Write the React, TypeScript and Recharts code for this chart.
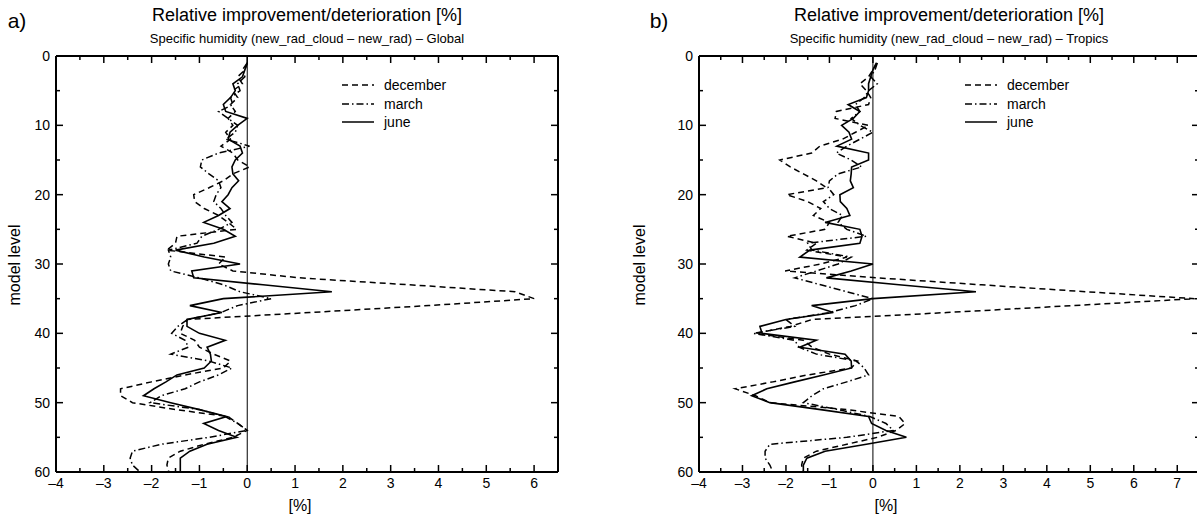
import React from "react";
import { LineChart, Line, XAxis, YAxis, ReferenceLine } from "recharts";

// model levels 1..60
const levels = Array.from({ length: 60 }, (_, i) => i + 1);

// Global
const globalDec = [
  0.0, -0.05, -0.2, -0.1, -0.3, -0.2, -0.35, -0.25, -0.4, -0.3,
  -0.45, -0.35, -0.55, -0.3, -0.2, 0.05, -0.3, -0.5, -0.8, -1.12,
  -1.1, -0.9, -0.6, -0.4, -0.22, -1.47, -1.5, -1.68, -0.45, -0.6,
  -0.3, 1.1, 3.4, 5.6, 6.0, 3.8, 1.3, -1.25, -1.35, -1.4,
  -1.1, -1.0, -0.7, -0.35, -0.5, -1.3, -2.0, -2.65, -2.65, -2.4,
  -1.5, -0.4, -0.2, 0.0, -0.3, -0.9, -1.4, -1.65, -1.68, -1.64,
];
const globalMar = [
  0.0, -0.1, -0.05, -0.2, -0.15, -0.35, -0.3, -0.6, -0.4, -0.2,
  -0.25, -0.45, 0.05, -0.6, -0.95, -0.98, -0.8, -0.6, -0.55, -0.65,
  -0.7, -0.55, -0.45, -0.32, -0.6, -0.95, -1.05, -1.65, -1.6, -1.65,
  -1.6, -1.0, -0.5, -0.15, 0.5, -0.2, -0.55, -1.25, -1.45, -1.58,
  -1.3, -1.23, -1.6, -0.8, -0.32, -0.6, -1.0, -1.3, -1.8, -2.03,
  -1.0, -0.46, -0.2, 0.0, -0.8, -1.8, -2.4, -2.45, -2.4, -2.24,
];
const globalJun = [
  0.0, -0.05, -0.1, -0.3, -0.25, -0.35, -0.5, -0.45, 0.0, -0.2,
  -0.36, -0.4, -0.15, -0.1, -0.25, -0.32, -0.3, -0.18, -0.32, -0.4,
  -0.53, -0.36, -0.6, -0.91, -0.5, -0.25, -0.7, -1.5, -0.9, -0.15,
  -1.16, -1.12, 0.33, 1.77, -0.5, -1.2, -0.53, -1.26, -1.26, -1.0,
  -0.46, -0.84, -0.77, -0.75, -0.9, -1.47, -1.7, -1.95, -2.17, -1.6,
  -1.0, -0.43, -0.91, -0.6, -0.22, -0.84, -1.2, -1.4, -1.4, -1.4,
];

// Tropics
const tropicsDec = [
  0.1, 0.0, -0.1, -0.3, -0.15, -0.05, -0.1, -0.84, -0.87, -0.1,
  -0.4, -0.7, -1.22, -1.41, -2.14, -1.9, -1.6, -1.3, -1.07, -1.98,
  -1.5, -1.2, -1.37, -1.0, -1.1, -1.98, -1.3, -1.52, -0.6, -1.2,
  -2.02, 0.1, 2.5, 4.9, 7.4, 4.6, 1.7, -1.4, -1.9, -2.7,
  -1.6, -1.4, -1.0, -0.35, -0.5, -1.5, -2.3, -3.17, -2.7, -2.37,
  -0.6, 0.6, 0.74, 0.54, 0.1, -0.6, -1.3, -1.6, -1.64, -1.6,
];
const tropicsMar = [
  0.1, 0.05, -0.05, 0.1, -0.1, -0.2, -0.4, -0.3, -0.5, -0.3,
  0.0, -0.3, -0.6, -0.84, -0.5, -0.26, -0.8, -1.0, -1.03, -0.9,
  -1.14, -1.0, -0.7, -0.8, -0.6, -0.15, -1.5, -1.4, -0.5, -0.8,
  -1.3, -1.8, -1.2, -0.6, 0.0, -0.4, -1.0, -2.0, -1.8, -2.75,
  -1.8, -1.7, -1.3, -0.38, -0.2, -0.1, -0.6, -1.14, -1.4, -1.6,
  -0.8, -0.07, 0.3, 0.47, -0.6, -2.37, -2.48, -2.48, -2.37, -2.3,
];
const tropicsJun = [
  0.08, 0.0, -0.05, -0.1, -0.1, -0.15, -0.57, -0.3, -0.45, -0.72,
  -0.55, -0.49, -0.83, -0.1, -0.1, -0.49, -0.5, -0.52, -0.45, -0.76,
  -0.75, -0.6, -0.53, -1.1, -0.3, -0.25, -0.3, -1.45, -1.68, 0.0,
  -0.5, -1.07, 0.6, 2.37, 0.0, -1.41, -0.91, -2.0, -2.6, -2.55,
  -1.3, -1.68, -0.64, -0.5, -0.49, -1.14, -1.8, -2.44, -2.79, -2.37,
  -1.2, -0.1, -0.03, 0.3, 0.77, -0.15, -1.1, -1.52, -1.6, -1.6,
];

const levelTicks = [0, 5, 10, 15, 20, 25, 30, 35, 40, 45, 50, 55, 60];
const globalTicks = [-4, -3.5, -3, -2.5, -2, -1.5, -1, -0.5, 0, 0.5, 1, 1.5, 2, 2.5, 3, 3.5, 4, 4.5, 5, 5.5, 6, 6.5];
const tropicsTicks = [...globalTicks, 7, 7.5];

const FONT = "'Liberation Sans', Arial, Helvetica, sans-serif";

const fmt = (v: number) => (v < 0 ? `\u2013${-v}` : `${v}`);

// inward tick marks; labels only on major ticks
const BottomTick = ({ x, y, payload }: any) => {
  const major = Number.isInteger(payload.value);
  return (
    <g>
      <line x1={x} x2={x} y1={y} y2={y - (major ? 7 : 4)} stroke="#000" strokeWidth={1.5} />
      {major && (
        <text x={x} y={y + 16} textAnchor="middle" fontSize={14} fontFamily={FONT} fill="#000">
          {fmt(payload.value)}
        </text>
      )}
    </g>
  );
};

const TopTick = ({ x, y, payload }: any) => {
  const major = Number.isInteger(payload.value);
  return <line x1={x} x2={x} y1={y} y2={y + (major ? 7 : 4)} stroke="#000" strokeWidth={1.5} />;
};

const LeftTick = ({ x, y, payload }: any) => {
  const major = payload.value % 10 === 0;
  return (
    <g>
      <line x1={x} x2={x + (major ? 7 : 4)} y1={y} y2={y} stroke="#000" strokeWidth={1.5} />
      {major && (
        <text x={x - 6} y={y + 5} textAnchor="end" fontSize={14} fontFamily={FONT} fill="#000">
          {payload.value}
        </text>
      )}
    </g>
  );
};

const RightTick = ({ x, y, payload }: any) => {
  const major = payload.value % 10 === 0;
  return <line x1={x} x2={x - (major ? 7 : 4)} y1={y} y2={y} stroke="#000" strokeWidth={1.5} />;
};

type PanelProps = {
  left: number;
  width: number;
  margin: { top: number; right: number; bottom: number; left: number };
  dec: number[];
  mar: number[];
  jun: number[];
  xMax: number;
  xTicks: number[];
};

function Panel({ left, width, margin, dec, mar, jun, xMax, xTicks }: PanelProps) {
  const rows = levels.map((level, i) => ({ level, dec: dec[i], mar: mar[i], jun: jun[i] }));
  const axisLine = { stroke: "#000", strokeWidth: 2 };
  // axes are 1px thick so they still render; margins are reduced by that pixel
  return (
    <div style={{ position: "absolute", left, top: 0 }}>
      <LineChart width={width} height={516} data={rows} layout="vertical" margin={margin}>
        <XAxis
          xAxisId="b"
          type="number"
          domain={[-4, xMax]}
          ticks={xTicks}
          interval={0}
          allowDataOverflow
          height={1}
          tickSize={0}
          tickMargin={0}
          axisLine={axisLine}
          tick={BottomTick}
        />
        <XAxis
          xAxisId="t"
          orientation="top"
          type="number"
          domain={[-4, xMax]}
          ticks={xTicks}
          interval={0}
          allowDataOverflow
          height={1}
          tickSize={0}
          tickMargin={0}
          axisLine={axisLine}
          tick={TopTick}
        />
        <YAxis
          yAxisId="l"
          type="number"
          dataKey="level"
          domain={[0, 60]}
          ticks={levelTicks}
          interval={0}
          width={1}
          tickSize={0}
          tickMargin={0}
          axisLine={axisLine}
          tick={LeftTick}
        />
        <YAxis
          yAxisId="r"
          orientation="right"
          type="number"
          dataKey="level"
          domain={[0, 60]}
          ticks={levelTicks}
          interval={0}
          width={1}
          tickSize={0}
          tickMargin={0}
          axisLine={axisLine}
          tick={RightTick}
        />
        <ReferenceLine xAxisId="b" yAxisId="l" x={0} stroke="#000" strokeWidth={1} />
        <Line xAxisId="b" yAxisId="l" dataKey="dec" stroke="#000" strokeWidth={1.5} strokeDasharray="6 4" dot={false} isAnimationActive={false} />
        <Line xAxisId="b" yAxisId="l" dataKey="mar" stroke="#000" strokeWidth={1.5} strokeDasharray="7 3 1.5 3" dot={false} isAnimationActive={false} />
        <Line xAxisId="b" yAxisId="l" dataKey="jun" stroke="#000" strokeWidth={1.6} dot={false} isAnimationActive={false} />
      </LineChart>
    </div>
  );
}

const Label = ({ x, y, size, children, rotate }: any) => (
  <div
    style={{
      position: "absolute",
      left: x,
      top: y,
      transform: `translate(-50%, -50%)${rotate ? " rotate(-90deg)" : ""}`,
      whiteSpace: "nowrap",
      fontSize: size,
      fontFamily: FONT,
      lineHeight: 1,
      color: "#000",
    }}
  >
    {children}
  </div>
);

const legendItems = [
  { name: "december", dash: "6 4" },
  { name: "march", dash: "7 3 1.5 3" },
  { name: "june", dash: undefined },
];

const LegendBox = ({ x, y }: { x: number; y: number }) => (
  <div style={{ position: "absolute", left: x, top: y }}>
    {legendItems.map((it) => (
      <div key={it.name} style={{ display: "flex", alignItems: "center", height: 18.5 }}>
        <svg width={32} height={4} style={{ marginRight: 10 }}>
          <line x1={0} x2={32} y1={2} y2={2} stroke="#000" strokeWidth={1.5} strokeDasharray={it.dash} />
        </svg>
        <span style={{ fontFamily: FONT, fontSize: 14, lineHeight: 1 }}>{it.name}</span>
      </div>
    ))}
  </div>
);

export default function App() {
  return (
    <div style={{ position: "absolute", left: 0, top: 0, width: 1197, height: 516, overflow: "hidden", background: "#fff" }}>
      <Panel left={0} width={600} margin={{ top: 55, right: 41, bottom: 43, left: 55 }} dec={globalDec} mar={globalMar} jun={globalJun} xMax={6.5} xTicks={globalTicks} />
      <Panel left={600} width={620} margin={{ top: 55, right: 20, bottom: 43, left: 98 }} dec={tropicsDec} mar={tropicsMar} jun={tropicsJun} xMax={7.5} xTicks={tropicsTicks} />

      <Label x={17} y={20} size={21}>a)</Label>
      <Label x={307} y={15} size={18}>Relative improvement/deterioration [%]</Label>
      <Label x={307} y={38} size={13}>Specific humidity (new_rad_cloud – new_rad) – Global</Label>
      <Label x={15} y={265} size={16} rotate>model level</Label>
      <Label x={300} y={506} size={16}>[%]</Label>
      <LegendBox x={342} y={76} />

      <Label x={659} y={20} size={21}>b)</Label>
      <Label x={949} y={15} size={18}>Relative improvement/deterioration [%]</Label>
      <Label x={949} y={38} size={13}>Specific humidity (new_rad_cloud – new_rad) – Tropics</Label>
      <Label x={640} y={265} size={16} rotate>model level</Label>
      <Label x={886} y={506} size={16}>[%]</Label>
      <LegendBox x={965} y={76} />
    </div>
  );
}
